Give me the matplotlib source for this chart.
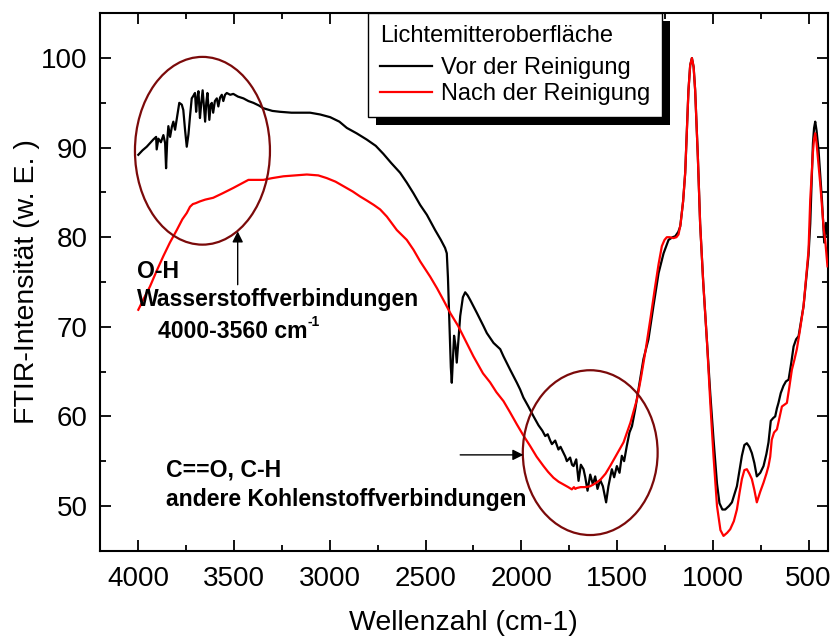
import matplotlib
matplotlib.use("Agg")
import matplotlib.pyplot as plt
import matplotlib.patheffects as pe
from matplotlib.patches import Ellipse
from matplotlib.ticker import MultipleLocator

plt.rcParams['font.family'] = ['Liberation Sans', 'DejaVu Sans']

# FTIR spectrum of the light-emitter surface before cleaning (wavenumber in cm-1, intensity a.u.)
wn_vor = [4000, 3978, 3956, 3935, 3922, 3907, 3904, 3895, 3882, 3869, 3860, 3855, 3849, 3843,
          3834, 3825, 3817, 3808, 3797, 3786, 3773, 3765, 3756, 3747, 3738, 3730, 3721, 3712,
          3704, 3698, 3692, 3686, 3678, 3671, 3664, 3651, 3645, 3639, 3629, 3622, 3616, 3609,
          3600, 3590, 3582, 3573, 3564, 3556, 3547, 3538, 3520, 3504, 3480, 3451, 3425, 3399,
          3370, 3347, 3300, 3260, 3200, 3155, 3103, 3050, 2998, 2950, 2911, 2860, 2807, 2760,
          2720, 2680, 2633, 2598, 2563, 2528, 2493, 2450, 2420, 2398, 2389, 2383, 2375, 2368,
          2363, 2357, 2351, 2344, 2337, 2330, 2319, 2305, 2293, 2280, 2267, 2232, 2198, 2180,
          2145, 2110, 2093, 2058, 2023, 2006, 1989, 1963, 1936, 1910, 1890, 1875, 1862, 1849,
          1840, 1823, 1806, 1795, 1780, 1770, 1762, 1745, 1735, 1727, 1713, 1701, 1689, 1675,
          1666, 1654, 1640, 1626, 1614, 1602, 1588, 1574, 1557, 1545, 1527, 1515, 1501, 1487,
          1475, 1463, 1449, 1435, 1422, 1405, 1388, 1362, 1336, 1310, 1283, 1257, 1231, 1210,
          1196, 1180, 1170, 1155, 1144, 1127, 1118, 1109, 1100, 1092, 1078, 1066, 1050, 1031,
          1013, 996, 978, 965, 950, 935, 915, 900, 874, 848, 835, 822, 809, 796,
          783, 770, 752, 735, 720, 709, 697, 685, 674, 665, 657, 645, 631, 618,
          604, 590, 578, 565, 552, 540, 526, 509, 500, 491, 477, 471, 465, 458,
          448, 439, 430, 418, 409, 401]
int_vor = [89.2, 89.7, 90.1, 90.6, 90.9, 91.2, 89.8, 91.0, 90.6, 91.4, 90.5, 87.7, 90.8, 92.4,
           91.2, 92.3, 92.9, 92.0, 93.5, 95.0, 94.8, 94.2, 92.0, 90.1, 91.5, 93.5, 95.5, 95.8,
           96.1, 94.0, 95.5, 96.3, 93.3, 95.0, 96.4, 92.9, 95.0, 96.1, 93.1, 94.8, 95.0, 93.9,
           95.2, 95.5, 94.6, 95.6, 95.9, 95.2, 95.9, 96.1, 95.9, 96.0, 95.7, 95.5, 95.2, 95.0,
           94.7, 94.4, 94.1, 94.0, 93.9, 93.9, 93.9, 93.7, 93.4, 92.9, 92.2, 91.6, 90.9, 90.2,
           89.3, 88.3, 87.2, 86.1, 84.9, 83.6, 82.5, 80.8, 79.7, 78.8, 78.2, 75.5, 70.0, 65.5,
           63.75, 66.5, 69.0, 68.0, 66.0, 68.0, 71.2, 73.3, 73.85, 73.5, 73.0, 71.55, 70.1, 69.3,
           68.2, 67.5, 66.7, 65.2, 63.75, 63.0, 62.1, 61.1, 60.0, 59.0, 58.4, 57.8, 58.0, 57.3,
           56.9, 57.3, 56.3, 56.6, 55.95, 55.5, 55.0, 55.4, 54.6, 54.45, 55.2, 52.8, 54.6, 54.1,
           53.2, 51.7, 53.5, 52.4, 53.3, 51.9, 52.9, 52.2, 50.4, 52.2, 54.1, 53.2, 54.45, 53.7,
           55.6, 55.0, 56.7, 58.2, 58.9, 60.8, 63.0, 66.4, 68.6, 72.3, 76.0, 78.2, 79.7, 80.0,
           80.1, 80.6, 81.2, 84.0, 87.2, 96.4, 99.2, 100.0, 99.0, 96.4, 89.0, 81.5, 75.0, 68.6,
           62.5, 57.4, 52.5, 50.3, 49.6, 49.6, 50.0, 50.4, 52.2, 55.6, 56.8, 57.0, 56.6, 55.9,
           54.8, 53.3, 53.7, 54.45, 55.8, 57.1, 59.5, 59.8, 60.0, 60.9, 61.5, 62.6, 63.4, 63.9,
           64.1, 66.0, 67.8, 68.6, 68.95, 70.5, 72.3, 76.0, 78.0, 81.5, 90.5, 92.2, 92.9, 91.9,
           89.8, 87.0, 84.2, 79.4, 81.6, 80.1]

# Same surface after cleaning
wn_nach = [4000, 3970, 3939, 3905, 3869, 3835, 3799, 3770, 3747, 3735, 3730, 3715, 3700, 3678,
           3650, 3609, 3560, 3504, 3460, 3425, 3390, 3347, 3300, 3242, 3180, 3120, 3060, 3016,
           2970, 2929, 2880, 2842, 2807, 2770, 2737, 2702, 2650, 2598, 2563, 2528, 2476, 2440,
           2407, 2370, 2330, 2290, 2250, 2200, 2163, 2130, 2093, 2060, 2023, 1990, 1954, 1920,
           1884, 1860, 1832, 1805, 1780, 1755, 1736, 1725, 1718, 1710, 1690, 1665, 1640, 1615,
           1588, 1560, 1536, 1500, 1466, 1430, 1396, 1375, 1350, 1325, 1301, 1283, 1266, 1252,
           1240, 1225, 1205, 1190, 1179, 1168, 1155, 1144, 1127, 1118, 1109, 1100, 1092, 1078,
           1066, 1050, 1031, 1013, 996, 978, 960, 944, 925, 909, 890, 874, 860, 848,
           835, 822, 809, 796, 783, 770, 752, 735, 720, 709, 700, 692, 680, 665,
           652, 639, 626, 613, 600, 587, 574, 561, 545, 526, 509, 500, 491, 477,
           471, 465, 458, 448, 439, 430, 420, 413, 401]
int_nach = [71.9, 73.2, 74.5, 76.2, 77.9, 79.4, 80.8, 82.0, 82.7, 83.2, 83.4, 83.7, 83.8, 84.0,
            84.2, 84.4, 84.9, 85.5, 86.0, 86.4, 86.4, 86.4, 86.6, 86.8, 86.9, 87.0, 86.9, 86.6,
            86.2, 85.7, 85.1, 84.55, 84.1, 83.6, 83.1, 82.3, 80.8, 79.7, 78.6, 77.3, 75.6, 74.3,
            73.0, 71.5, 70.1, 68.4, 66.7, 64.8, 63.8, 62.7, 61.7, 60.5, 59.1, 57.9, 56.7, 55.5,
            54.45, 53.8, 53.15, 52.7, 52.4, 52.1, 51.85, 52.1, 51.9, 52.0, 52.1, 52.1, 52.2, 52.5,
            52.9, 53.6, 54.45, 55.8, 57.1, 59.3, 61.9, 64.3, 67.5, 71.0, 74.5, 77.0, 79.0, 79.7,
            80.0, 80.0, 79.9, 80.0, 80.3, 81.5, 84.0, 87.2, 96.4, 99.2, 100.0, 99.0, 96.4, 89.0,
            81.5, 75.0, 68.6, 61.5, 55.5, 50.0, 47.3, 46.65, 47.0, 47.4, 48.3, 49.6, 51.5, 53.0,
            54.0, 54.1, 53.6, 53.0, 51.8, 50.4, 51.6, 52.6, 53.6, 54.45, 55.5, 57.4, 58.2, 58.55,
            59.8, 61.1, 61.3, 61.5, 63.3, 65.2, 66.3, 67.5, 69.6, 72.3, 76.3, 78.5, 84.2, 89.5,
            91.0, 91.6, 90.5, 88.2, 86.0, 83.5, 80.8, 79.7, 76.75]

series_labels = ['Vor der Reinigung', 'Nach der Reinigung']
legend_title = 'Lichtemitteroberfläche'

fig = plt.figure(figsize=(8.32, 6.38), dpi=100)
ax = fig.add_axes([0.1202, 0.1368, 0.8746, 0.8424])

ax.plot(wn_vor, int_vor, color='black', lw=1.6, label=series_labels[0], zorder=3)
ax.plot(wn_nach, int_nach, color='#ff0000', lw=1.6, label=series_labels[1], zorder=4)

ax.set_xlim(4200, 400)
ax.set_ylim(45, 105)
ax.xaxis.set_major_locator(MultipleLocator(500))
ax.xaxis.set_minor_locator(MultipleLocator(250))
ax.yaxis.set_major_locator(MultipleLocator(10))
ax.yaxis.set_minor_locator(MultipleLocator(5))
ax.tick_params(which='both', direction='in', top=True, right=True, width=1.3)
ax.tick_params(which='major', length=8, labelsize=20)
ax.tick_params(which='minor', length=4.5)
ax.tick_params(axis='x', which='major', pad=11)
ax.tick_params(axis='y', which='major', pad=9)
for sp in ax.spines.values():
    sp.set_linewidth(1.5)

ax.set_xlabel('Wellenzahl (cm-1)', fontsize=20.5, labelpad=13)
ax.set_ylabel('FTIR-Intensität (w. E. )', fontsize=20.5, labelpad=1)

# Highlighted absorption regions
ring = '#7b0a0a'
ax.add_patch(Ellipse((3665, 89.65), width=705, height=20.96, fill=False,
                     edgecolor=ring, lw=1.6, zorder=5))
ax.add_patch(Ellipse((1640, 55.95), width=704, height=18.4, fill=False,
                     edgecolor=ring, lw=1.6, zorder=5))

arrow = dict(arrowstyle='-|>', color='black', lw=1.0, mutation_scale=16, shrinkA=0, shrinkB=0)
ax.annotate('', xy=(3481, 80.65), xytext=(3481, 74.7), arrowprops=arrow, zorder=6)
ax.annotate('', xy=(1989, 55.7), xytext=(2319, 55.7), arrowprops=arrow, zorder=6)

bold = dict(fontsize=16.6, fontweight='bold', va='baseline', ha='left', zorder=6)
ax.text(4008, 75.46, 'O-H', **bold)
ax.text(4008, 72.37, 'Wasserstoffverbindungen', **bold)
t = ax.text(3895, 68.77, '4000-3560 cm', **bold)
ax.annotate('-1', xy=(1.0, 0.62), xycoords=t, fontsize=10, fontweight='bold',
            va='bottom', ha='left')
ax.text(3857, 53.34, 'C==O, C-H', **bold)
ax.text(3857, 50.0, 'andere Kohlenstoffverbindungen', **bold)

leg = ax.legend(title=legend_title, loc='upper left', bbox_to_anchor=(0.3683, 1.0),
                borderaxespad=0, fontsize=17, title_fontsize=17, frameon=True,
                fancybox=False, edgecolor='black', framealpha=1, handlelength=2.2,
                handletextpad=0.4, labelspacing=0.16, borderpad=0.5, alignment='left')
leg._legend_box.sep = 7.5
leg.get_frame().set_linewidth(1.0)
leg.get_frame().set_path_effects([
    pe.SimplePatchShadow(offset=(5.8, -5.8), shadow_rgbFace='black', alpha=1.0),
    pe.Normal()])
for ln in leg.get_lines():
    ln.set_linewidth(1.6)
leg.set_zorder(10)

fig.savefig('out.png', dpi=100)
